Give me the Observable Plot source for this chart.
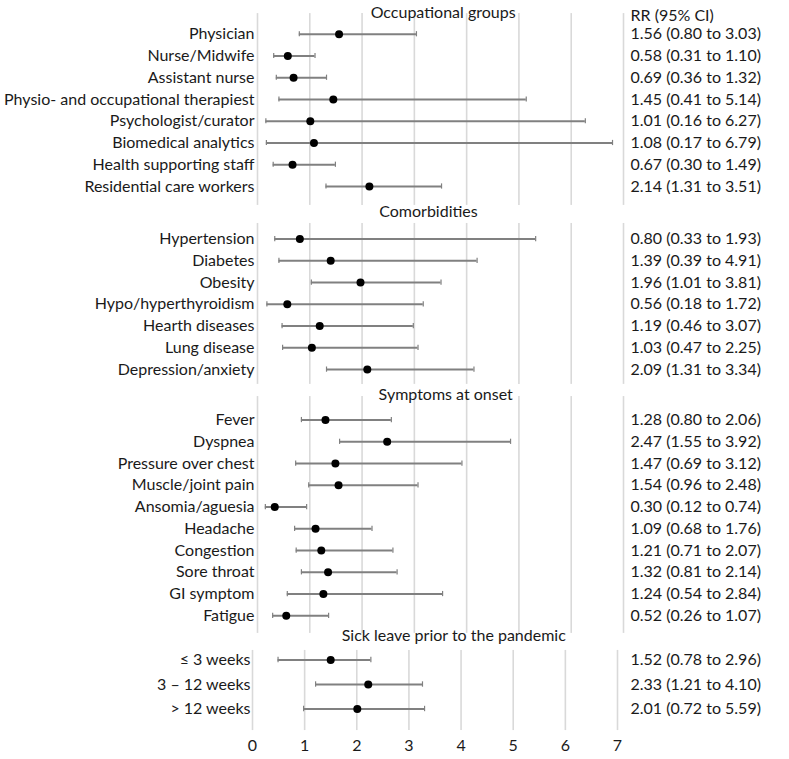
<!DOCTYPE html>
<html><head><meta charset="utf-8">
<script src="https://cdn.jsdelivr.net/npm/d3@7"></script>
<script src="https://cdn.jsdelivr.net/npm/@observablehq/plot@0.6"></script>
<style>
body{margin:0;background:#fff;}
#chart{position:relative;width:789px;height:759px;font-family:Lato,sans-serif;}
#chart > svg{position:absolute;left:0;}
</style></head><body><div id="chart"></div>
<script>
// ---- data ----
const sectionTitles = ["Occupational groups","Comorbidities","Symptoms at onset","Sick leave prior to the pandemic"];
const ciHeader = "RR (95% CI)";
const xTicks = [0,1,2,3,4,5,6,7];

const occupationLabels = ["Physician","Nurse/Midwife","Assistant nurse","Physio- and occupational therapiest","Psychologist/curator","Biomedical analytics","Health supporting staff","Residential care workers"];
const occupationRR   = [1.56,0.58,0.69,1.45,1.01,1.08,0.67,2.14];
const occupationLow  = [0.80,0.31,0.36,0.41,0.16,0.17,0.30,1.31];
const occupationHigh = [3.04,1.10,1.32,5.14,6.27,6.79,1.49,3.52];
const occupationCI = ["1.56 (0.80 to 3.03)","0.58 (0.31 to 1.10)","0.69 (0.36 to 1.32)","1.45 (0.41 to 5.14)","1.01 (0.16 to 6.27)","1.08 (0.17 to 6.79)","0.67 (0.30 to 1.49)","2.14 (1.31 to 3.51)"];

const comorbidityLabels = ["Hypertension","Diabetes","Obesity","Hypo/hyperthyroidism","Hearth diseases","Lung disease","Depression/anxiety"];
const comorbidityRR   = [0.81,1.40,1.97,0.57,1.19,1.04,2.10];
const comorbidityLow  = [0.33,0.41,1.03,0.18,0.47,0.48,1.32];
const comorbidityHigh = [5.32,4.20,3.51,3.17,2.98,3.07,4.14];
const comorbidityCI = ["0.80 (0.33 to 1.93)","1.39 (0.39 to 4.91)","1.96 (1.01 to 3.81)","0.56 (0.18 to 1.72)","1.19 (0.46 to 3.07)","1.03 (0.47 to 2.25)","2.09 (1.31 to 3.34)"];

const symptomLabels = ["Fever","Dyspnea","Pressure over chest","Muscle/joint pain","Ansomia/aguesia","Headache","Congestion","Sore throat","GI symptom","Fatigue"];
const symptomRR   = [1.30,2.48,1.49,1.55,0.33,1.11,1.22,1.35,1.26,0.55];
const symptomLow  = [0.84,1.57,0.73,0.98,0.15,0.71,0.74,0.84,0.57,0.29];
const symptomHigh = [2.56,4.84,3.91,3.07,0.94,2.19,2.59,2.67,3.54,1.36];
const symptomCI = ["1.28 (0.80 to 2.06)","2.47 (1.55 to 3.92)","1.47 (0.69 to 3.12)","1.54 (0.96 to 2.48)","0.30 (0.12 to 0.74)","1.09 (0.68 to 1.76)","1.21 (0.71 to 2.07)","1.32 (0.81 to 2.14)","1.24 (0.54 to 2.84)","0.52 (0.26 to 1.07)"];

const sickLabels = ["\u2264 3 weeks","3 \u2013 12 weeks","> 12 weeks"];
const sickRR   = [1.50,2.22,2.01];
const sickLow  = [0.49,1.21,0.98];
const sickHigh = [2.27,3.26,3.30];
const sickCI = ["1.52 (0.78 to 2.96)","2.33 (1.21 to 4.10)","2.01 (0.72 to 5.59)"];

// ---- layout ----
const FONT = "Lato, sans-serif";
const FS = 16;
const WHISKER = "#808080";
const GRID = "#d9d9d9";
const INK = "#1a1a1a";

function buildRows(groups, headerGap, sectionGap, gridTop, gridBottom, headerX) {
  let cursor = 0;
  const rows = [], headers = [], grid = [];
  groups.forEach((g, i) => {
    const h = cursor;
    headers.push({title: g.title, y: h, x: headerX[i]});
    let y = h + headerGap[i];
    g.labels.forEach((lab, j) => {
      rows.push({label: lab, rr: g.rr[j], lo: g.lo[j], hi: g.hi[j], ci: g.ci[j], y});
      y += 1;
    });
    const last = y - 1;
    xTicks.forEach(t => grid.push({x: t, y1: h + gridTop[i], y2: last + gridBottom[i]}));
    cursor = last + sectionGap;
  });
  return {rows, headers, grid};
}

const A = buildRows([
  {title: sectionTitles[0], labels: occupationLabels, rr: occupationRR, lo: occupationLow, hi: occupationHigh, ci: occupationCI},
  {title: sectionTitles[1], labels: comorbidityLabels, rr: comorbidityRR, lo: comorbidityLow, hi: comorbidityHigh, ci: comorbidityCI},
  {title: sectionTitles[2], labels: symptomLabels, rr: symptomRR, lo: symptomLow, hi: symptomHigh, ci: symptomCI}
], [1.0, 1.25, 1.15], 1.17, [0.05, 0.53, 0.07], [0.87, 0.68, 0.81], [3.55, 3.27, 3.6]);

const B = buildRows([
  {title: sectionTitles[3], labels: sickLabels, rr: sickRR, lo: sickLow, hi: sickHigh, ci: sickCI}
], [1.0], 1, [0.61], [0.88], [3.86]);

function forestMarks(d, labelDx, ciDx, capHalf) {
  return [
    Plot.ruleX(d.grid, {x: "x", y1: "y1", y2: "y2", stroke: GRID, strokeWidth: 1.6}),
    Plot.ruleY(d.rows, {x1: "lo", x2: "hi", y: "y", stroke: WHISKER, strokeWidth: 2}),
    Plot.ruleX(d.rows, {x: "lo", y1: r => r.y - capHalf, y2: r => r.y + capHalf, stroke: WHISKER, strokeWidth: 1.2}),
    Plot.ruleX(d.rows, {x: "hi", y1: r => r.y - capHalf, y2: r => r.y + capHalf, stroke: WHISKER, strokeWidth: 1.2}),
    Plot.dot(d.rows, {x: "rr", y: "y", r: 4, fill: "black"}),
    Plot.text(d.rows, {frameAnchor: "left", y: "y", text: "label", textAnchor: "end", dx: labelDx, fontSize: FS, fill: INK}),
    Plot.text(d.rows, {frameAnchor: "right", y: "y", text: "ci", textAnchor: "start", dx: ciDx, fontSize: FS, fill: INK}),
    Plot.text(d.headers, {x: "x", y: "y", text: "title", fontSize: FS, fill: INK})
  ];
}

const plotA = Plot.plot({
  width: 789, height: 640,
  marginLeft: 257, marginRight: 166, marginTop: 12, marginBottom: 6,
  style: {background: "transparent", fontFamily: FONT, overflow: "visible"},
  x: {domain: [0, 7], axis: null},
  y: {domain: [0, 28.6], reverse: true, axis: null},
  marks: [
    ...forestMarks(A, -3, 7, 0.12),
    Plot.text([ciHeader], {frameAnchor: "top-right", lineAnchor: "middle", text: d => d, textAnchor: "start", dx: 7, dy: 3, fontSize: FS, fill: INK})
  ]
});

const plotB = Plot.plot({
  width: 789, height: 139,
  marginLeft: 252, marginRight: 172, marginTop: 15, marginBottom: 26,
  style: {background: "transparent", fontFamily: FONT, overflow: "visible", fontSize: FS + "px"},
  x: {domain: [0, 7]},
  y: {domain: [0, 4], reverse: true, axis: null},
  marks: [
    ...forestMarks(B, -2, 13, 0.11),
    Plot.axisX(xTicks, {anchor: "bottom", tickSize: 0, tickPadding: 6, fontSize: FS, fill: INK, label: null})
  ]
});

const chart = document.getElementById("chart");
plotA.style.top = "0px";
plotB.style.top = "620px";
chart.appendChild(plotA);
chart.appendChild(plotB);
</script>
</body></html>
